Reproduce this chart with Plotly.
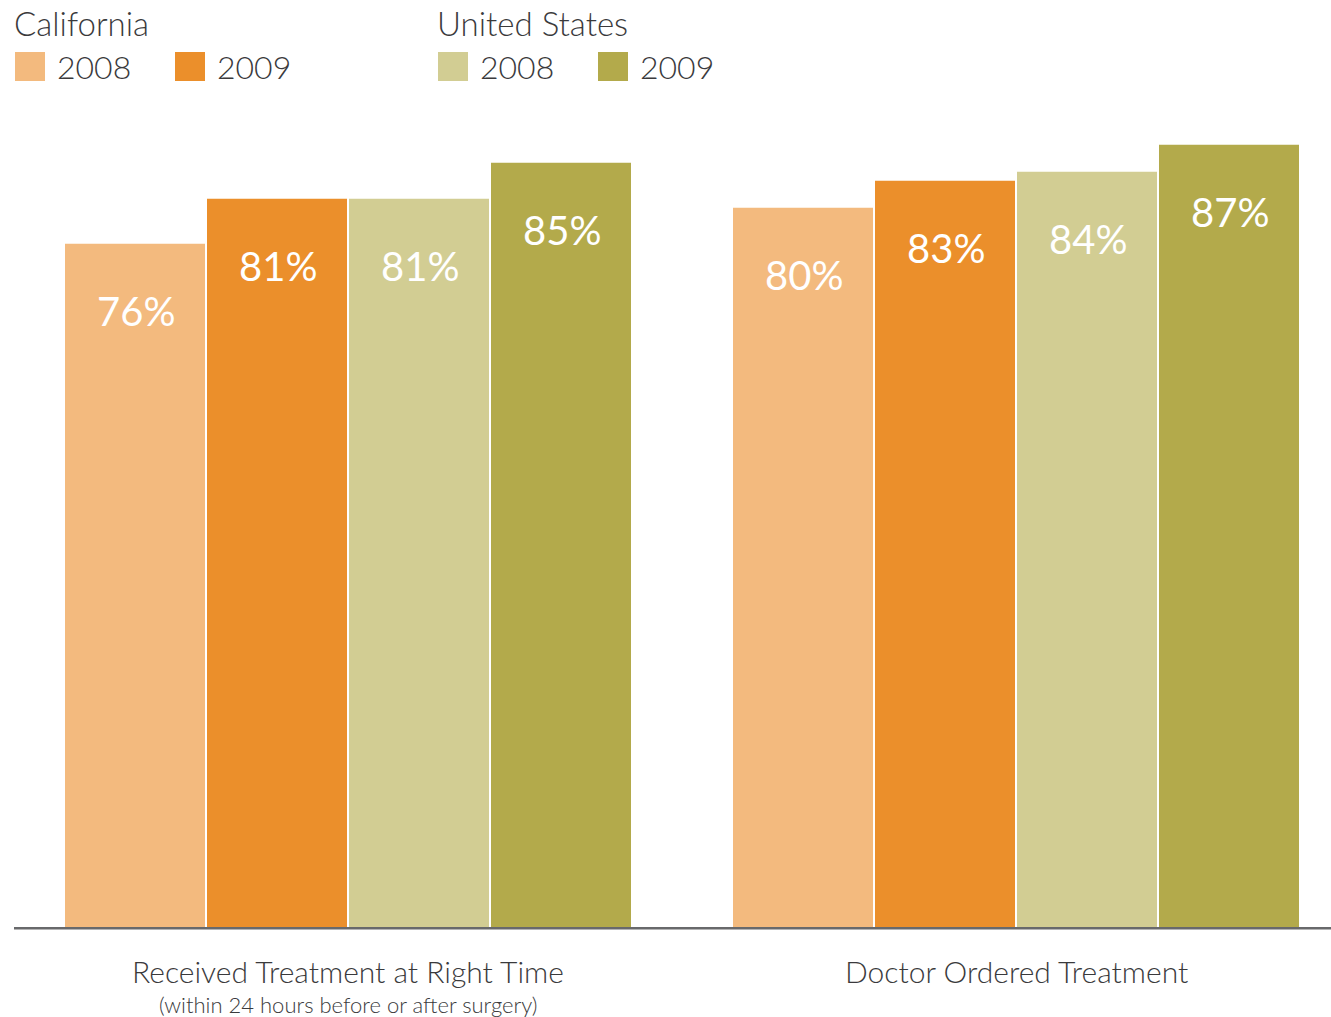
import plotly.graph_objects as go

# Measures and values
categories = ["Received Treatment at Right Time", "Doctor Ordered Treatment"]
subtitles = ["(within 24 hours before or after surgery)", ""]
series_names = ["California 2008", "California 2009", "United States 2008", "United States 2009"]
series_values = [
    [76, 80],
    [81, 83],
    [81, 84],
    [85, 87],
]
colors = ["#F3BA7E", "#EB8F2B", "#D2CD93", "#B3AA4B"]

legend_groups = ["California", "United States"]
legend_years = ["2008", "2009"]

FONT = "Lato"
LIGHT = 300
TEXT_COLOR = "#3a3a3c"

W, H = 1331, 1017
PLOT_BOTTOM = 927  # pixel row of the baseline

fig = go.Figure()
for name, vals, col in zip(series_names, series_values, colors):
    fig.add_trace(go.Bar(
        x=list(range(len(categories))),
        y=vals,
        name=name,
        marker=dict(color=col, line=dict(width=0)),
        showlegend=False,
        hoverinfo="skip",
    ))

annotations = []
shapes = []

# value labels inside each bar near the top
slot_px = 142
n = len(series_values)
for i, vals in enumerate(series_values):
    for j, v in enumerate(vals):
        annotations.append(dict(
            x=j, y=v, xref="x", yref="y",
            text=f"{v}%", showarrow=False,
            xshift=(i - (n - 1) / 2) * slot_px + 1,
            yshift=-67, yanchor="middle",
            font=dict(family=FONT, size=40, color="white", weight=400),
        ))

# category labels below the baseline
for j, (cat, sub) in enumerate(zip(categories, subtitles)):
    annotations.append(dict(
        x=j, y=0, xref="x", yref="y", text=cat, showarrow=False,
        yshift=-44, yanchor="middle",
        font=dict(family=FONT, size=30, color=TEXT_COLOR, weight=LIGHT),
    ))
    if sub:
        annotations.append(dict(
            x=j, y=0, xref="x", yref="y", text=sub, showarrow=False,
            yshift=-77, yanchor="middle",
            font=dict(family=FONT, size=22, color=TEXT_COLOR, weight=LIGHT),
        ))

# baseline
shapes.append(dict(type="line", xref="paper", yref="paper",
                   x0=14 / W, x1=1, y0=-1.2 / PLOT_BOTTOM, y1=-1.2 / PLOT_BOTTOM,
                   line=dict(color="#68696b", width=2.5), layer="above"))

# legend: group headings with coloured swatches and year labels
def py(p):
    return (PLOT_BOTTOM - p) / PLOT_BOTTOM

def px(p):
    return p / W

group_x = [12, 435]
for g, gname in enumerate(legend_groups):
    gx = group_x[g]
    annotations.append(dict(
        x=px(gx), y=py(23), xref="paper", yref="paper", text=gname,
        showarrow=False, xanchor="left", yanchor="middle",
        font=dict(family=FONT, size=33, color=TEXT_COLOR, weight=LIGHT),
    ))
    for k, yr in enumerate(legend_years):
        sx = gx + 3 + k * 160
        col = colors[g * 2 + k]
        shapes.append(dict(type="rect", xref="paper", yref="paper",
                           x0=px(sx), x1=px(sx + 30), y0=py(81), y1=py(52),
                           fillcolor=col, line=dict(width=0)))
        annotations.append(dict(
            x=px(sx + 40), y=py(67), xref="paper", yref="paper", text=yr,
            showarrow=False, xanchor="left", yanchor="middle",
            font=dict(family=FONT, size=32, color=TEXT_COLOR, weight=LIGHT),
        ))

slot_data = 668.0
fig.update_layout(
    width=W, height=H,
    margin=dict(l=0, r=0, t=0, b=H - PLOT_BOTTOM, pad=0),
    paper_bgcolor="white", plot_bgcolor="white",
    barmode="group",
    bargap=100 / 668,
    bargroupgap=2 / 142,
    xaxis=dict(type="linear", range=[-348 / slot_data, (W - 348) / slot_data],
               showticklabels=False, showgrid=False, zeroline=False,
               showline=False, ticks=""),
    yaxis=dict(range=[0, PLOT_BOTTOM / 8.99], showticklabels=False,
               showgrid=False, zeroline=False, showline=False, ticks=""),
    annotations=annotations,
    shapes=shapes,
    showlegend=False,
)

fig.write_html("out.html")
